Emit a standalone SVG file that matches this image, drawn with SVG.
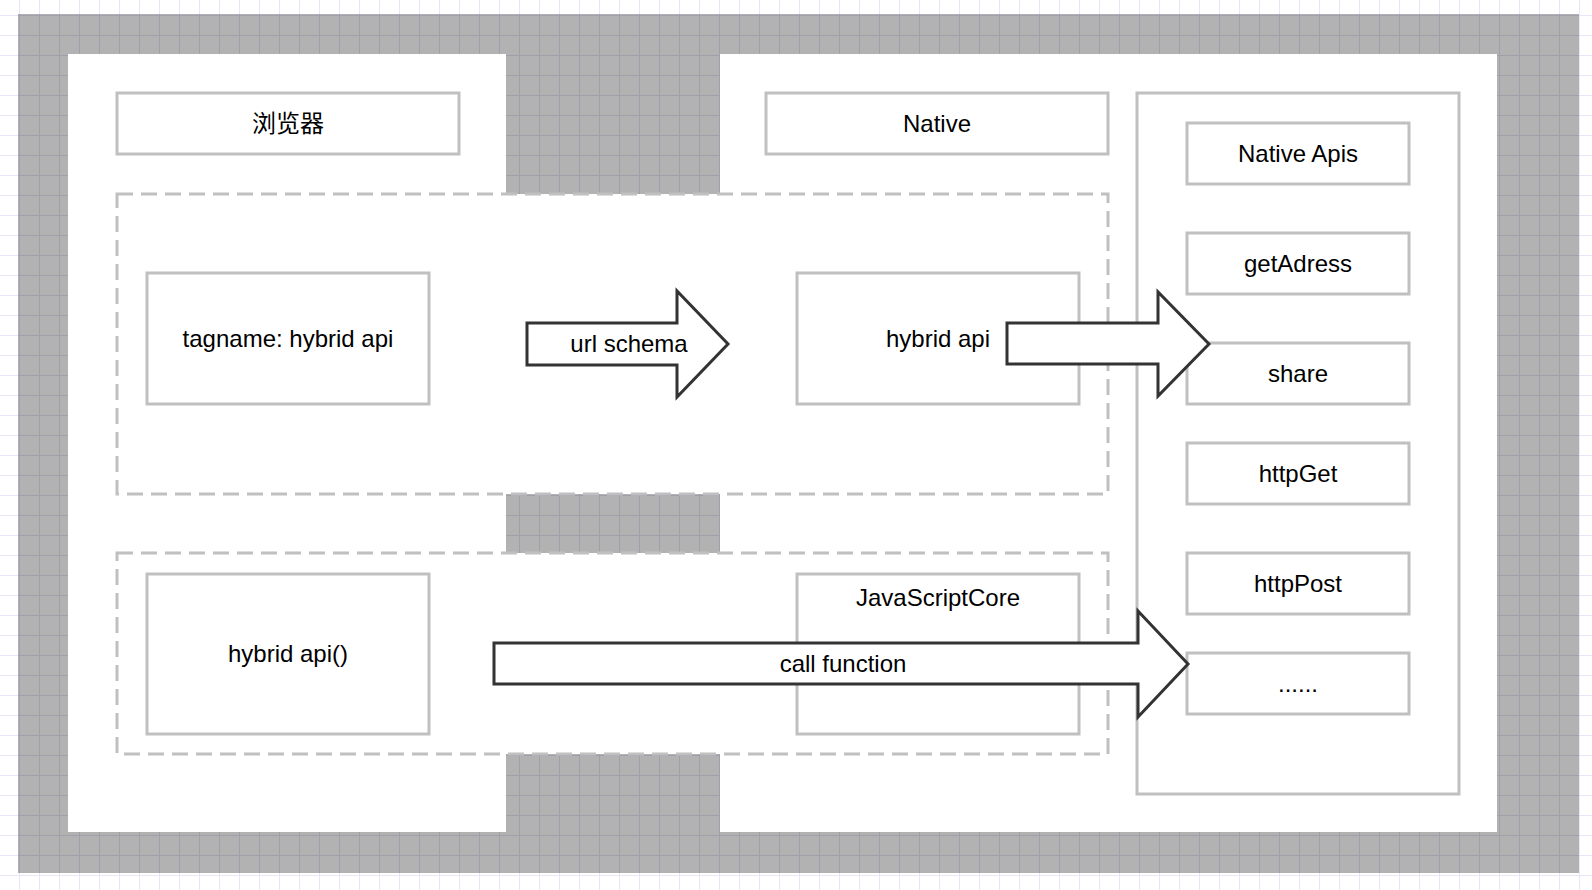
<svg xmlns="http://www.w3.org/2000/svg" width="1592" height="890" viewBox="0 0 1592 890">
<defs>
<pattern id="grid" patternUnits="userSpaceOnUse" x="19" y="15" width="20" height="20">
<path d="M0 0.5H20M0.5 0V20" fill="none" stroke="#e6e6f8" stroke-width="1"/>
</pattern>
<style>
.box{fill:#fff;stroke:#c0c0c0;stroke-width:3}
.dash{fill:#fff;stroke:#c0c0c0;stroke-width:3;stroke-dasharray:16 8}
.arrow{fill:#fff;stroke:#333;stroke-width:3;stroke-linejoin:miter}
.t{font-family:"Liberation Sans",Arial,"Noto Sans CJK SC",sans-serif;font-size:24px;fill:#000;text-anchor:middle}
</style>
</defs>
<rect x="0" y="0" width="1592" height="890" fill="#fff"/>
<rect x="0" y="0" width="1592" height="890" fill="url(#grid)"/>
<rect x="18" y="14" width="1561" height="859" fill="#000" fill-opacity="0.3"/>
<g id="panels">
<rect x="68" y="54" width="438" height="778" fill="#fff"/>
<rect x="720" y="54" width="777" height="778" fill="#fff"/>
</g>
<g id="group-schema"><rect class="dash" x="117" y="194" width="991" height="300"/></g>
<g id="group-jsc"><rect class="dash" x="117" y="553" width="991" height="201"/></g>
<g id="browser"><rect class="box" x="117" y="93" width="342" height="61"/><text class="t" x="288" y="132">浏览器</text></g>
<g id="native"><rect class="box" x="766" y="93" width="342" height="61"/><text class="t" x="937" y="132">Native</text></g>
<g id="native-apis-container"><rect class="box" x="1137" y="93" width="322" height="701"/></g>
<g id="tagname"><rect class="box" x="147" y="273" width="282" height="131"/><text class="t" x="288" y="347">tagname: hybrid api</text></g>
<g id="hybrid-api"><rect class="box" x="797" y="273" width="282" height="131"/><text class="t" x="938" y="347">hybrid api</text></g>
<g id="hybrid-api-call"><rect class="box" x="147" y="574" width="282" height="160"/><text class="t" x="288" y="662">hybrid api()</text></g>
<g id="javascriptcore"><rect class="box" x="797" y="574" width="282" height="160"/><text class="t" x="938" y="606">JavaScriptCore</text></g>
<g id="native-apis"><rect class="box" x="1187" y="123" width="222" height="61"/><text class="t" x="1298" y="162">Native Apis</text></g>
<g id="getadress"><rect class="box" x="1187" y="233" width="222" height="61"/><text class="t" x="1298" y="272">getAdress</text></g>
<g id="share"><rect class="box" x="1187" y="343" width="222" height="61"/><text class="t" x="1298" y="382">share</text></g>
<g id="httpget"><rect class="box" x="1187" y="443" width="222" height="61"/><text class="t" x="1298" y="482">httpGet</text></g>
<g id="httppost"><rect class="box" x="1187" y="553" width="222" height="61"/><text class="t" x="1298" y="592">httpPost</text></g>
<g id="more"><rect class="box" x="1187" y="653" width="222" height="61"/><text class="t" x="1298" y="692">......</text></g>
<g id="connectors">
<polygon class="arrow" points="527,323 677,323 677,291 728,344 677,397 677,365 527,365"/>
<text class="t" x="629" y="352">url schema</text>
<polygon class="arrow" points="1007,323 1158,323 1158,292 1209,344 1158,396 1158,364 1007,364"/>
<polygon class="arrow" points="494,643 1138,643 1138,611 1188,664 1138,717 1138,684 494,684"/>
<text class="t" x="843" y="672">call function</text>
</g>
</svg>
